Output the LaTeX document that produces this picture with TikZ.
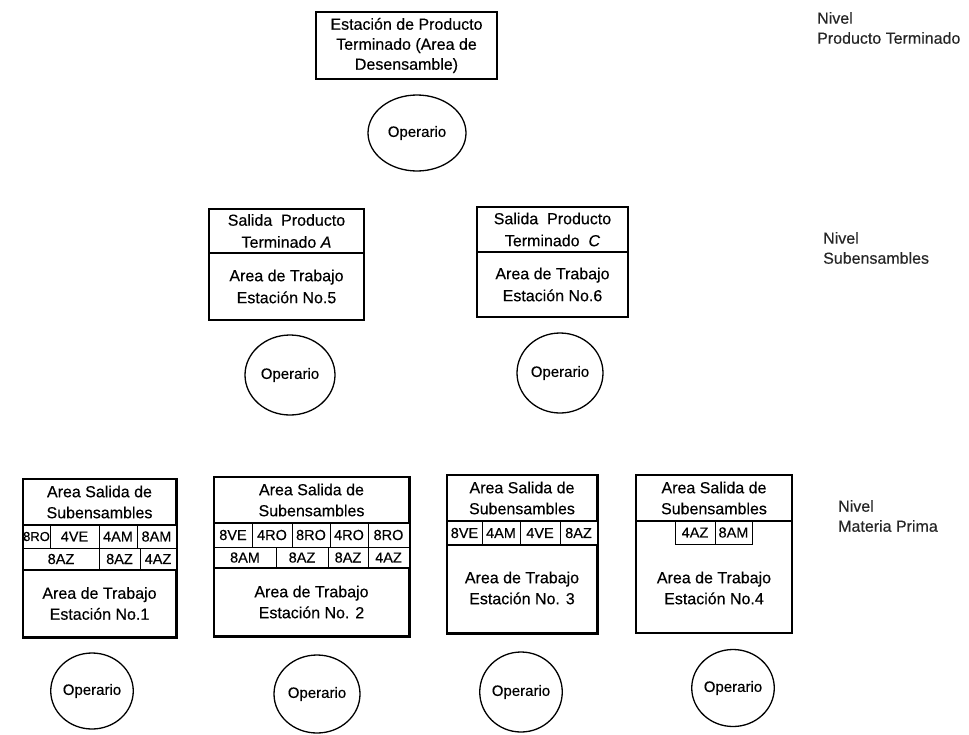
\documentclass[tikz,border=0pt]{standalone}
\usepackage{fontspec}
\setmainfont{Liberation Sans}[FakeBold=0.3]
\usetikzlibrary{shapes.geometric}
% a rectangular node spanning two corners (x1,y1)--(x2,y2)
\newcommand\spanbox[7][]{%
  \pgfmathsetmacro\sbw{#5-#3}\pgfmathsetmacro\sbh{#6-#4}%
  \node[#1, minimum width=\sbw pt, minimum height=\sbh pt]
    (#2) at ({(#3+#5)/2},{(#4+#6)/2}) {#7};}
\begin{document}
\begin{tikzpicture}[x=1pt,y=-1pt,
  frame/.style={draw, line width=1.5pt, inner sep=0pt, align=center,
    font=\fontsize{16}{21}\selectfont},
  cell/.style={draw, line width=0.8pt, inner sep=0pt,
    font=\fontsize{14.5}{15}\selectfont},
  txt/.style={inner sep=0pt, align=center, font=\fontsize{16}{21}\selectfont},
  oper/.style={draw, ellipse, line width=1.3pt, inner sep=0pt,
    font=\fontsize{15}{16}\selectfont},
  nivel/.style={anchor=west, align=left, inner sep=0pt,
    font=\fontsize{16}{20}\selectfont, text=black!85}]
\useasboundingbox (0,0) rectangle (969,734);
\fill[white] (0,0) rectangle (969,734);

% ---------- finished-product level ----------
\spanbox[frame, font=\fontsize{16}{20}\selectfont]{pt}{316}{12}{497}{79}
  {Estación de Producto\\Terminado (Area de\\Desensamble)}
\node[oper, minimum width=98pt, minimum height=76pt] (op0) at (417,133) {Operario};
\node[nivel] (nivPT) at (817,28) {Nivel\\Producto Terminado};

% ---------- sub-assembly level ----------
\spanbox[frame, font=\fontsize{16}{22}\selectfont]{saA}{209}{209}{364}{253}
  {Salida\ \ Producto\\Terminado \textit{A}}
\spanbox[frame, font=\fontsize{16}{22}\selectfont]{wA}{209}{253}{364}{320}
  {Area de Trabajo\\Estación No.5}
\node[oper, minimum width=90pt, minimum height=80pt] (opA) at (290,375) {Operario};

\spanbox[frame, font=\fontsize{16}{22}\selectfont]{saC}{477}{207}{628}{252}
  {Salida\ \ Producto\\Terminado\ \ \textit{C}}
\spanbox[frame, font=\fontsize{16}{22}\selectfont]{wC}{477}{252}{628}{317}
  {Area de Trabajo\\Estación No.6}
\node[oper, minimum width=86pt, minimum height=80pt] (opC) at (560,373) {Operario};

\node[nivel] (nivSE) at (823,248) {Nivel\\Subensambles};

% ---------- raw-material level ----------
% station 1
\spanbox[frame]{out1}{23}{479}{176}{525}{Area Salida de\\Subensambles}
\spanbox[cell, font=\fontsize{13}{14}\selectfont]{c1a}{23}{525}{50}{548}{8RO}
\spanbox[cell]{c1b}{50}{525}{99}{548}{4VE}
\spanbox[cell]{c1c}{99}{525}{137}{548}{4AM}
\spanbox[cell]{c1d}{137}{525}{176}{548}{8AM}
\spanbox[cell]{c1e}{23}{548}{99}{570}{8AZ}
\spanbox[cell]{c1f}{99}{548}{140}{570}{8AZ}
\spanbox[cell]{c1g}{140}{548}{176}{570}{4AZ}
\spanbox[frame]{w1}{23}{570}{176}{637}{Area de Trabajo\\Estación No.1}
\draw[line width=1.5pt] (out1.north west) rectangle (w1.south east);
\node[oper, minimum width=82pt, minimum height=76pt] (op1) at (92,691) {Operario};

% station 2
\spanbox[frame]{out2}{214}{477}{409}{523}{Area Salida de\\Subensambles}
\spanbox[cell]{c2a}{214}{523}{252}{547}{8VE}
\spanbox[cell]{c2b}{252}{523}{292}{547}{4RO}
\spanbox[cell]{c2c}{292}{523}{330}{547}{8RO}
\spanbox[cell]{c2d}{330}{523}{368}{547}{4RO}
\spanbox[cell]{c2e}{368}{523}{409}{547}{8RO}
\spanbox[cell]{c2f}{214}{547}{276}{568}{8AM}
\spanbox[cell]{c2g}{276}{547}{328}{568}{8AZ}
\spanbox[cell]{c2h}{328}{547}{368}{568}{8AZ}
\spanbox[cell]{c2i}{368}{547}{409}{568}{4AZ}
\spanbox[frame]{w2}{214}{568}{409}{636}{Area de Trabajo\\Estación No. 2}
\draw[line width=1.5pt] (out2.north west) rectangle (w2.south east);
\node[oper, minimum width=86pt, minimum height=78pt] (op2) at (317,694) {Operario};

% station 3
\spanbox[frame]{out3}{447}{475}{597}{521}{Area Salida de\\Subensambles}
\spanbox[cell]{c3a}{447}{521}{482}{545}{8VE}
\spanbox[cell]{c3b}{482}{521}{520}{545}{4AM}
\spanbox[cell]{c3c}{520}{521}{560}{545}{4VE}
\spanbox[cell]{c3d}{560}{521}{597}{545}{8AZ}
\spanbox[frame]{w3}{447}{545}{597}{633}{}
\node[txt] (t3) at (522,588) {Area de Trabajo\\Estación No. 3};
\draw[line width=1.5pt] (out3.north west) rectangle (w3.south east);
\node[oper, minimum width=82pt, minimum height=80pt] (op3) at (521,692) {Operario};

% station 4
\spanbox[frame]{out4}{636}{475}{792}{521}{Area Salida de\\Subensambles}
\spanbox[frame]{w4}{636}{521}{792}{633}{}
\spanbox[cell]{c4a}{675}{521}{715}{544}{4AZ}
\spanbox[cell]{c4b}{715}{521}{752}{544}{8AM}
\node[txt] (t4) at (714,588) {Area de Trabajo\\Estación No.4};
\node[oper, minimum width=80pt, minimum height=77pt] (op4) at (733,688) {Operario};

\node[nivel] (nivMP) at (838,516) {Nivel\\Materia Prima};
\end{tikzpicture}
\end{document}
